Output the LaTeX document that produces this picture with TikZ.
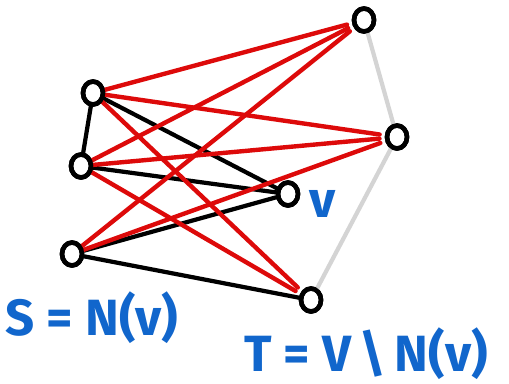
\documentclass[tikz,border=0pt]{standalone}
\usepackage{fontspec}
\setsansfont{Fira Sans}
\usetikzlibrary{shapes.geometric}
\definecolor{EdgeRed}{HTML}{DD0A0A}
\definecolor{EdgeGrey}{HTML}{D4D4D4}
\definecolor{InkBlue}{HTML}{1166CC}
\tikzset{
  vtx/.style={draw=black,line width=2.6pt,ellipse,minimum width=0.40cm,minimum height=0.46cm,inner sep=0pt,fill=white},
  redge/.style={EdgeRed,line width=2.5pt,line cap=round,shorten >=3pt},
  bedge/.style={black,line width=2.4pt,line cap=round},
  gedge/.style={EdgeGrey,line width=2.4pt,line cap=round},
  lbl/.style={text=InkBlue,font=\sffamily\bfseries\fontsize{29}{32}\selectfont,inner sep=0pt}
}
\begin{document}
\begin{tikzpicture}[x=0.02cm,y=-0.02cm]
\useasboundingbox (0,0) rectangle (509,383);
% vertices
\node[vtx] (s1) at (93,93) {};
\node[vtx] (s2) at (81,166) {};
\node[vtx] (s3) at (72,254) {};
\node[vtx] (v) at (288,194) {};
\node[vtx] (t1) at (364,20) {};
\node[vtx] (t2) at (397,137) {};
\node[vtx] (t3) at (311,300) {};
% edges inside T
\draw[gedge] (t1)--(t2);\draw[gedge] (t2)--(t3);
% edges to v and inside S
\draw[bedge] (s1)--(s2);
\foreach \s in {s1,s2,s3} \draw[bedge] (\s)--(v);
\draw[bedge] (s3)--(t3);
% S to T
\foreach \s/\t in {s1/t1,s1/t2,s1/t3,s2/t1,s2/t2,s2/t3,s3/t1,s3/t2} \draw[redge] (\s)--(\t);
% redraw vertices on top
\foreach \n in {s1,s2,s3,v,t1,t2,t3} \draw[line width=2.6pt] (\n.center) ellipse (0.2cm and 0.23cm);
% labels
\node[lbl] (vlbl) at (323,204) {v};
\node[lbl] (slbl) at (92,318) {S = N(v)};
\node[lbl] (tlbl) at (366,354) {T = V\,\textbackslash\,N(v)};
\end{tikzpicture}
\end{document}
